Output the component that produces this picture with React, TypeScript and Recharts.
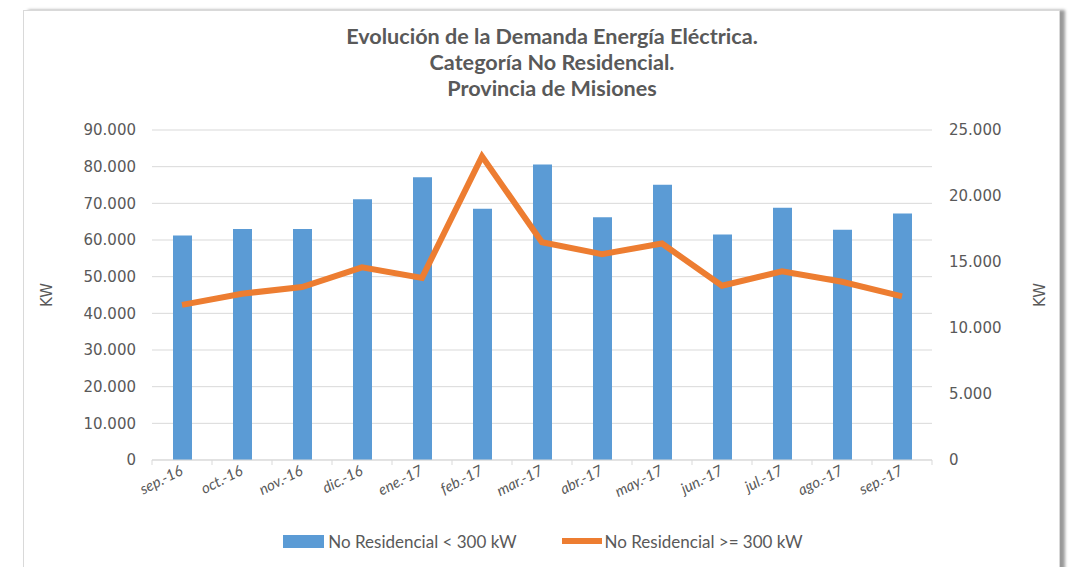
import { ComposedChart, Bar, Line, XAxis, YAxis, CartesianGrid, Legend } from "recharts";

// Values (kW)
const months = [
  "sep.-16", "oct.-16", "nov.-16", "dic.-16", "ene.-17", "feb.-17", "mar.-17",
  "abr.-17", "may.-17", "jun.-17", "jul.-17", "ago.-17", "sep.-17",
];
const lowValues = [61200, 63000, 63000, 71100, 77100, 68500, 80600, 66200, 75100, 61500, 68800, 62800, 67200];
const highValues = [11750, 12600, 13100, 14600, 13800, 23000, 16500, 15600, 16400, 13200, 14300, 13500, 12400];

const leftTicks = [0, 10000, 20000, 30000, 40000, 50000, 60000, 70000, 80000, 90000];
const rightTicks = [0, 5000, 10000, 15000, 20000, 25000];

const LOW_NAME = "No Residencial < 300 kW";
const HIGH_NAME = "No Residencial >= 300 kW";

const data = months.map((m, i) => ({ month: m, low: lowValues[i], high: highValues[i] }));

const BLUE = "#5B9BD5";
const ORANGE = "#ED7D31";
const GREY = "#595959";
const GRID = "#d9d9d9";

const PLOT_W = 780;
const BAND = PLOT_W / months.length;

const fmt = (v: number) => v.toString().replace(/\B(?=(\d{3})+(?!\d))/g, ".");

const MonthTick = (props: any) => {
  const { x, y, payload, index } = props;
  const last = index === months.length - 1;
  const tx = x + 2;
  const ty = y + 14;
  return (
    <g>
      <line x1={x - BAND / 2} y1={y} x2={x - BAND / 2} y2={y + 5} stroke={GRID} />
      {last && <line x1={x + BAND / 2} y1={y} x2={x + BAND / 2} y2={y + 5} stroke={GRID} />}
      <text
        x={tx}
        y={ty}
        transform={`rotate(-27 ${tx} ${ty})`}
        textAnchor="end"
        fill={GREY}
        fontFamily="Lato"
        fontStyle="italic"
        fontSize={15}
      >
        {payload.value}
      </text>
    </g>
  );
};

const kwLabel = (dx: number) => (props: any) => {
  const { viewBox } = props;
  const cx = viewBox.x + dx;
  const cy = viewBox.y + viewBox.height / 2;
  return (
    <text
      x={cx}
      y={cy}
      transform={`rotate(-90 ${cx} ${cy})`}
      textAnchor="middle"
      dominantBaseline="central"
      fill={GREY}
      fontFamily="DejaVu Sans"
      fontSize={15}
    >
      KW
    </text>
  );
};

const LegendBox = () => (
  <div
    style={{
      height: 30,
      display: "flex",
      alignItems: "center",
      justifyContent: "center",
      fontFamily: "Lato",
      fontSize: 17,
      color: GREY,
      paddingLeft: 14,
    }}
  >
    <span style={{ display: "inline-block", width: 41, height: 13, background: BLUE, marginRight: 4 }} />
    <span>{LOW_NAME}</span>
    <span style={{ display: "inline-block", width: 40, height: 6, background: ORANGE, marginLeft: 45, marginRight: 3 }} />
    <span>{HIGH_NAME}</span>
  </div>
);

export default function App() {
  return (
    <div style={{ position: "absolute", left: 0, top: 0, width: 1072, height: 567, overflow: "hidden", background: "#fff" }}>
      {/* chart frame with the right-hand shadow */}
      <div
        style={{
          position: "absolute",
          left: 23,
          top: 10,
          width: 1035,
          height: 620,
          border: `1px solid ${GRID}`,
          boxShadow: "5px 0 3px rgba(0,0,0,0.4)",
          background: "#fff",
        }}
      />
      <div
        style={{
          position: "absolute",
          left: 252,
          top: 23,
          width: 600,
          textAlign: "center",
          fontFamily: "Lato",
          fontWeight: 700,
          fontSize: 21.6,
          lineHeight: "26px",
          color: GREY,
        }}
      >
        <div>Evolución de la Demanda Energía Eléctrica.</div>
        <div>Categoría No Residencial.</div>
        <div>Provincia de Misiones</div>
      </div>
      <div style={{ position: "absolute", left: 0, top: 0 }}>
        <ComposedChart width={1072} height={567} data={data} margin={{ top: 130, right: 0, bottom: 11, left: 0 }}>
          <CartesianGrid yAxisId="left" vertical={false} stroke={GRID} />
          <XAxis
            dataKey="month"
            height={66}
            axisLine={{ stroke: GRID }}
            tickLine={false}
            tickSize={0}
            tickMargin={0}
            interval={0}
            tick={<MonthTick />}
          />
          <YAxis
            yAxisId="left"
            width={152}
            domain={[0, 90000]}
            ticks={leftTicks}
            tickFormatter={fmt}
            axisLine={false}
            tickLine={false}
            tickSize={0}
            tickMargin={16}
            tick={{ fill: GREY, fontFamily: "DejaVu Sans", fontSize: 15 }}
            label={kwLabel(47)}
          />
          <YAxis
            yAxisId="right"
            orientation="right"
            width={140}
            domain={[0, 25000]}
            ticks={rightTicks}
            tickFormatter={fmt}
            axisLine={false}
            tickLine={false}
            tickSize={0}
            tickMargin={17}
            tick={{ fill: GREY, fontFamily: "DejaVu Sans", fontSize: 15, textAnchor: "start" }}
            label={kwLabel(108)}
          />
          <Bar yAxisId="left" dataKey="low" name={LOW_NAME} fill={BLUE} barSize={19} isAnimationActive={false} />
          <Line
            yAxisId="right"
            type="linear"
            dataKey="high"
            name={HIGH_NAME}
            stroke={ORANGE}
            strokeWidth={6}
            dot={false}
            isAnimationActive={false}
          />
          <Legend verticalAlign="bottom" content={<LegendBox />} />
        </ComposedChart>
      </div>
    </div>
  );
}
